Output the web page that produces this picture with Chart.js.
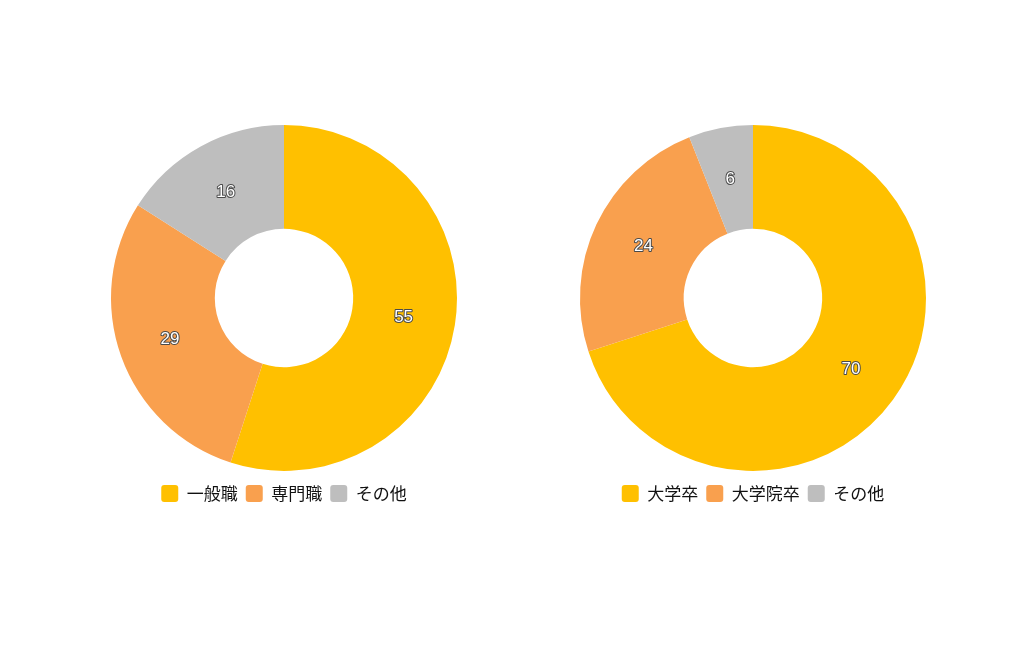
<!DOCTYPE html>
<html>
<head>
<meta charset="utf-8">
<script src="https://cdn.jsdelivr.net/npm/chart.js@4"></script>
<style>
  body { margin: 0; background: #fff; }
  .box { position: absolute; top: 0; width: 469px; height: 655px; }
  #boxLeft { left: 50px; }
  #boxRight { left: 519px; }
</style>
</head>
<body>
<div class="box" id="boxLeft"><canvas id="chartLeft"></canvas></div>
<div class="box" id="boxRight"><canvas id="chartRight"></canvas></div>
<script>
// dados dos dois gráficos
const labelsLeft = ['一般職', '専門職', 'その他']
const valuesLeft = [55, 29, 16]
const labelsRight = ['大学卒', '大学院卒', 'その他']
const valuesRight = [70, 24, 6]
const sliceColors = ['#FFC000', '#F9A04E', '#BEBEBE']

const fontFamily = '"Noto Sans CJK JP", "Noto Sans", sans-serif'

// rótulos com contorno no centro de cada fatia
const sliceLabels = {
    id: 'sliceLabels',
    afterDatasetsDraw(chart) {
        const ctx = chart.ctx
        const meta = chart.getDatasetMeta(0)
        const data = chart.data.datasets[0].data
        ctx.save()
        ctx.font = '17px "Liberation Sans", Arial, sans-serif'
        ctx.textAlign = 'center'
        ctx.textBaseline = 'middle'
        ctx.lineJoin = 'round'
        meta.data.forEach(function(arc, i) {
            const pos = arc.getCenterPoint()
            ctx.lineWidth = 2
            ctx.strokeStyle = '#4a4a4a'
            ctx.strokeText(String(data[i]), pos.x, pos.y)
            ctx.fillStyle = '#fff'
            ctx.fillText(String(data[i]), pos.x, pos.y)
        })
        ctx.restore()
    }
}

function makeDoughnut(canvas, labels, values) {
    return new Chart(canvas, {
        type: 'doughnut',
        data: {
            labels: labels,
            datasets: [{
                data: values,
                backgroundColor: sliceColors,
                borderWidth: 0
            }]
        },
        options: {
            responsive: true,
            maintainAspectRatio: false,
            animation: false,
            cutout: '40%',
            layout: {
                padding: { top: 119, bottom: 143, left: 61, right: 62 }
            },
            plugins: {
                legend: {
                    position: 'bottom',
                    labels: {
                        boxWidth: 17,
                        boxHeight: 17,
                        useBorderRadius: true,
                        borderRadius: 3,
                        padding: 8,
                        color: '#111',
                        font: { size: 17, family: fontFamily }
                    }
                },
                tooltip: { enabled: false }
            }
        },
        plugins: [sliceLabels]
    })
}

makeDoughnut(document.querySelector('canvas#chartLeft'), labelsLeft, valuesLeft)
makeDoughnut(document.querySelector('canvas#chartRight'), labelsRight, valuesRight)
</script>
</body>
</html>
